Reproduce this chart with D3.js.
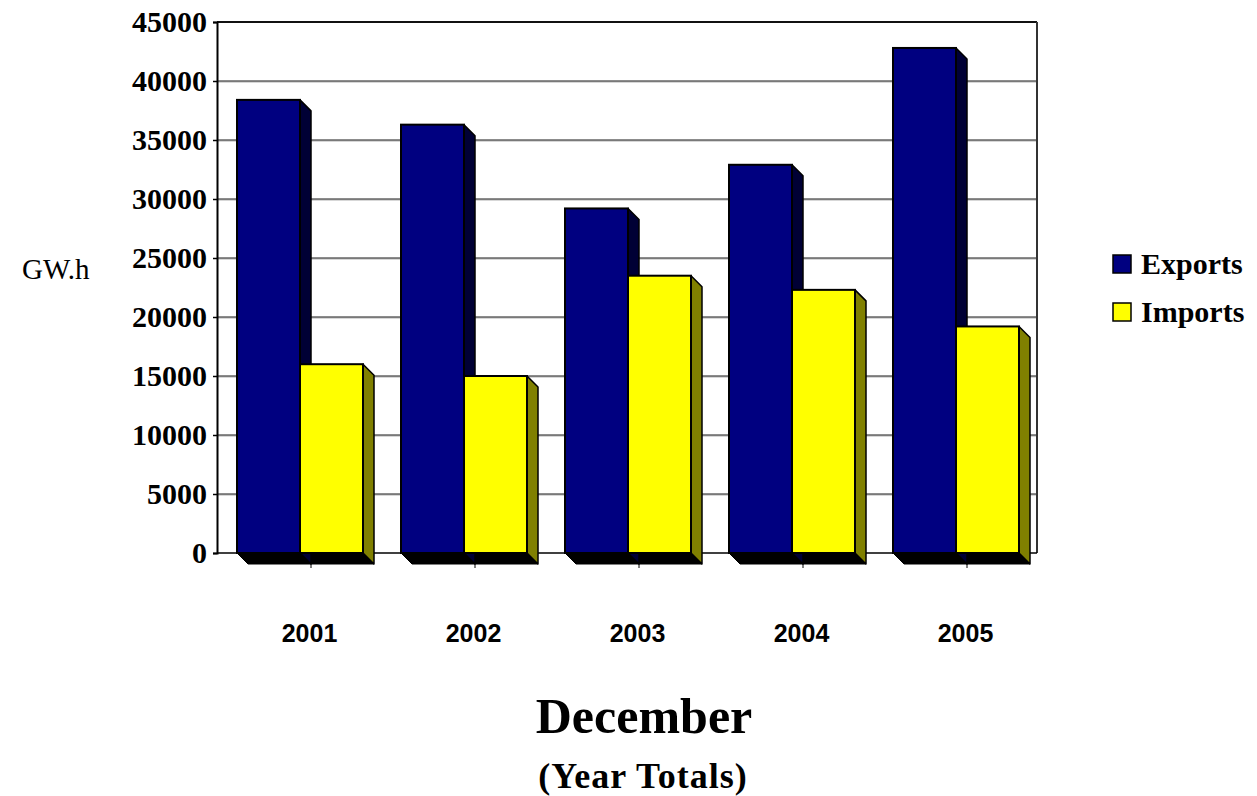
<!DOCTYPE html>
<html>
<head>
<meta charset="utf-8">
<script src="https://cdn.jsdelivr.net/npm/d3@7/dist/d3.min.js"></script>
<style>
  html, body { margin: 0; padding: 0; background: #ffffff; }
  svg { display: block; }
</style>
</head>
<body>
<svg id="chart" width="1257" height="796"></svg>
<script>
// ---- data ----
const years = ["2001", "2002", "2003", "2004", "2005"];
const exportsGWh = [38400, 36300, 29200, 32900, 42800];
const importsGWh = [16000, 15000, 23500, 22300, 19200];
const seriesNames = ["Exports", "Imports"];
const yTicks = [0, 5000, 10000, 15000, 20000, 25000, 30000, 35000, 40000, 45000];

// ---- layout ----
const svg = d3.select("#chart");
const plotLeft = 217, plotRight = 1037, plotTop = 22, plotBottom = 553;
const depth = 11;
const frontColors = ["#000080", "#ffff00"];
const sideColors = ["#000035", "#808000"];

const y = d3.scaleLinear().domain([0, 45000]).range([plotBottom, plotTop]);
const x0 = d3.scaleBand().domain(years).range([plotLeft, plotRight]).paddingInner(0).paddingOuter(0);
const inner = d3.scaleBand().domain(seriesNames).range([20, 146]).padding(0);

const gridVals = yTicks.filter(d => d > 0 && d < 45000);
// gridlines (with faint shadow)
svg.append("g").selectAll("line").data(gridVals).join("line")
  .attr("x1", plotLeft).attr("x2", plotRight)
  .attr("y1", d => y(d) + 1).attr("y2", d => y(d) + 1)
  .attr("stroke", "#b0b0b0").attr("stroke-width", 1);
svg.append("g").selectAll("line").data(gridVals).join("line")
  .attr("x1", plotLeft).attr("x2", plotRight)
  .attr("y1", d => y(d)).attr("y2", d => y(d))
  .attr("stroke", "#1a1a1a").attr("stroke-width", 1.2);

// frame: top and right
svg.append("line").attr("x1", plotLeft).attr("x2", plotRight).attr("y1", plotTop).attr("y2", plotTop)
  .attr("stroke", "#111").attr("stroke-width", 1.8);
svg.append("line").attr("x1", plotRight).attr("x2", plotRight).attr("y1", plotTop).attr("y2", plotBottom)
  .attr("stroke", "#333").attr("stroke-width", 2);
// zero line
svg.append("line").attr("x1", plotLeft).attr("x2", plotRight).attr("y1", plotBottom).attr("y2", plotBottom)
  .attr("stroke", "#000").attr("stroke-width", 1.5);

// y axis
const yAxis = d3.axisLeft(y).tickValues(yTicks).tickSize(4).tickPadding(6).tickFormat(d3.format("d"));
const gy = svg.append("g").attr("transform", `translate(${plotLeft},0)`).call(yAxis);
gy.select(".domain").attr("stroke", "#000").attr("stroke-width", 2);
gy.selectAll(".tick line").attr("stroke", "#000").attr("stroke-width", 1.5);
gy.selectAll(".tick text")
  .attr("font-family", "'Liberation Serif', 'Times New Roman', serif")
  .attr("font-weight", "bold").attr("font-size", 30).attr("fill", "#000")
  .attr("dy", "0.33em");

// bars
const groups = svg.append("g").selectAll("g").data(years).join("g")
  .attr("transform", d => `translate(${x0(d)},0)`);

// floor shadow per group
groups.append("path")
  .attr("d", () => {
    const a = inner("Exports"), b = inner("Imports") + inner.bandwidth();
    return `M${a},${plotBottom} L${b},${plotBottom} L${b + depth},${plotBottom + depth} L${a + depth},${plotBottom + depth} Z`;
  })
  .attr("fill", "#000").attr("stroke", "#000").attr("stroke-width", 1);

// small category ticks below floor
groups.append("line")
  .attr("x1", x0.bandwidth() / 2 + 12).attr("x2", x0.bandwidth() / 2 + 12)
  .attr("y1", plotBottom + depth).attr("y2", plotBottom + depth + 4)
  .attr("stroke", "#000").attr("stroke-width", 1);

groups.each(function (yr, i) {
  const g = d3.select(this);
  const bd = [
    { s: 0, name: "Exports", v: exportsGWh[i] },
    { s: 1, name: "Imports", v: importsGWh[i] }
  ];
  g.selectAll("path.side").data(bd).join("path").attr("class", "side")
    .attr("d", d => {
      const x1 = inner(d.name) + inner.bandwidth();
      const yt = y(d.v);
      return `M${x1},${yt} L${x1 + depth},${yt + depth} L${x1 + depth},${plotBottom + depth} L${x1},${plotBottom} Z`;
    })
    .attr("fill", d => sideColors[d.s]).attr("stroke", "#000").attr("stroke-width", 1.5)
    .attr("stroke-linejoin", "round");
  g.selectAll("rect.front").data(bd).join("rect").attr("class", "front")
    .attr("x", d => inner(d.name)).attr("width", inner.bandwidth())
    .attr("y", d => y(d.v)).attr("height", d => plotBottom - y(d.v))
    .attr("fill", d => frontColors[d.s]).attr("stroke", "#000").attr("stroke-width", 2);
});

// x labels
svg.append("g").selectAll("text").data(years).join("text")
  .attr("x", d => x0(d) + 20 + (126 + depth) / 2 + 4)
  .attr("y", 642)
  .attr("text-anchor", "middle")
  .attr("font-family", "'Liberation Sans', Arial, sans-serif")
  .attr("font-weight", "bold").attr("font-size", 25).attr("fill", "#000")
  .text(d => d);

// y unit label
svg.append("text").attr("x", 22).attr("y", 279)
  .attr("font-family", "'Liberation Serif', 'Times New Roman', serif")
  .attr("font-size", 29).attr("fill", "#000").text("GW.h");

// legend
const lg = svg.append("g").selectAll("g").data(seriesNames).join("g")
  .attr("transform", (d, i) => `translate(1113, ${255 + i * 48})`);
lg.append("rect").attr("width", 18).attr("height", 18)
  .attr("fill", (d, i) => frontColors[i]).attr("stroke", "#000").attr("stroke-width", 1.5);
lg.append("text").attr("x", 28).attr("y", 19)
  .attr("font-family", "'Liberation Serif', 'Times New Roman', serif")
  .attr("font-weight", "bold").attr("font-size", 30).attr("fill", "#000")
  .text(d => d);

// titles
svg.append("text").attr("x", 644).attr("y", 733).attr("text-anchor", "middle")
  .attr("font-family", "'Liberation Serif', 'Times New Roman', serif")
  .attr("font-weight", "bold").attr("font-size", 50).attr("fill", "#000")
  .text("December");
svg.append("text").attr("x", 643).attr("y", 788).attr("text-anchor", "middle")
  .attr("font-family", "'Liberation Serif', 'Times New Roman', serif")
  .attr("font-weight", "bold").attr("font-size", 36).attr("letter-spacing", 1).attr("fill", "#000")
  .text("(Year Totals)");
</script>
</body>
</html>
